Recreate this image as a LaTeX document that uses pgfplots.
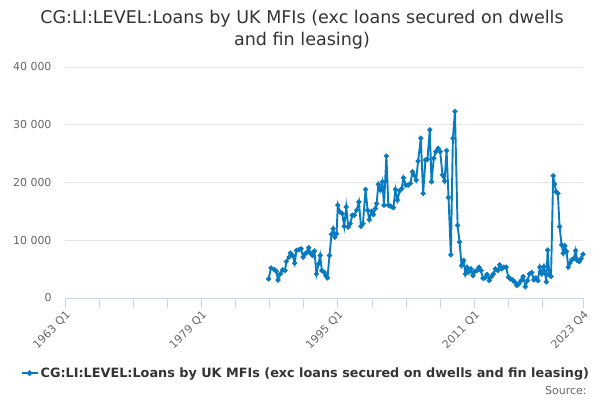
\documentclass[border=0pt]{standalone}
\usepackage{fontspec}
\setmainfont{DejaVu Sans}
\usepackage{pgfplots}
\pgfplotsset{compat=1.18}

\definecolor{serie}{RGB}{8,122,192}
\definecolor{axisline}{RGB}{204,214,235}
\definecolor{gridc}{RGB}{230,230,230}
\definecolor{titlec}{RGB}{51,51,51}
\definecolor{tickc}{RGB}{102,102,102}

\begin{document}
\begin{tikzpicture}[x=1bp,y=1bp]
\path[use as bounding box] (0,0) rectangle (600,400);

% title
\node[align=center, font=\fontsize{17.6}{22}\selectfont, text=titlec] at (302,370)
  {CG:LI:LEVEL:Loans by UK MFIs (exc loans secured on dwells\\and fin leasing)};

\begin{axis}[
  at={(65bp,102bp)}, anchor=south west,
  scale only axis,
  width=518bp, height=231bp,
  xmin=1963, xmax=2023.75,
  ymin=0, ymax=40000,
  axis x line*=bottom,
  axis y line*=left,
  x axis line style={draw=axisline, -},
  y axis line style={draw=none},
  xtick={1963,1979,1995,2011,2023.75},
  xticklabels={1963 Q1,1979 Q1,1995 Q1,2011 Q1,2023 Q4},
  minor xtick={1967,1971,1975,1983,1987,1991,1999,2003,2007,2015,2019},
  ytick={0,10000,20000,30000,40000},
  major tick length=10bp,
  minor tick length=10bp,
  xtick style={draw=axisline, line width=0.8bp},
  minor x tick style={draw=axisline, line width=0.8bp},
  ytick style={draw=none},
  tick align=outside,
  ymajorgrids,
  grid style={draw=gridc, line width=0.8bp},
  /pgf/number format/assume math mode=true,
  /pgf/number format/1000 sep={\ },
  /pgf/number format/min exponent for 1000 sep=4,
  scaled y ticks=false,
  xticklabel style={rotate=45, anchor=north east, font=\fontsize{11}{13}\selectfont, text=tickc, xshift=2bp, yshift=2bp},
  yticklabel style={anchor=east, font=\fontsize{11}{13}\selectfont, text=tickc, xshift=0bp},
  legend style={at={(0.465,-0.325)}, anchor=center, draw=none, fill=none,
    font=\bfseries\fontsize{12.85}{14}\selectfont, text=titlec,
    legend image code/.code={\draw[#1, line width=2bp] (0bp,0bp) -- (16bp,0bp); \fill[serie] (8bp,0bp) circle (1.8bp);}},
  clip=false,
]
\addplot[serie, line width=1.9bp, mark=*, mark size=1.5bp, mark options={fill=serie, draw=serie}] coordinates {
(1986.88,3306) (1987.16,5220) (1987.55,4930) (1987.78,4640) (1987.98,3132)
(1988.25,4176) (1988.53,4872) (1988.80,4756) (1988.96,6322) (1989.27,7076)
(1989.43,7772) (1989.71,7366) (1989.94,6032) (1990.14,8236) (1990.45,8352)
(1990.69,8526) (1990.92,7076) (1991.16,7656) (1991.39,7946) (1991.59,8700)
(1991.78,7772) (1992.02,7366) (1992.25,8120) (1992.49,4176) (1992.73,5916)
(1992.92,7366) (1993.12,4756) (1993.39,4466) (1993.59,3886) (1993.78,3480)
(1994.02,7366) (1994.25,11020) (1994.45,12006) (1994.65,10556) (1994.84,11136)
(1995.00,16066) (1995.24,14906) (1995.51,14616) (1995.75,12412) (1995.98,15776)
(1996.22,12296) (1996.45,12876) (1996.69,14326) (1996.92,14326) (1997.20,15196)
(1997.47,16646) (1997.71,12412) (1997.94,12876) (1998.25,18792) (1998.49,15196)
(1998.69,13572) (1998.96,15022) (1999.16,14442) (1999.39,15486) (1999.55,16356)
(1999.75,19662) (1999.98,18676) (2000.22,20126) (2000.41,16066) (2000.69,24592)
(2000.92,16066) (2001.20,15892) (2001.51,15660) (2001.75,18792) (2001.98,16936)
(2002.25,18560) (2002.49,18966) (2002.69,20822) (2002.96,19546) (2003.24,19546)
(2003.51,19836) (2003.75,21866) (2003.94,21286) (2004.18,20416) (2004.41,23722)
(2004.73,27666) (2005.00,18096) (2005.27,23896) (2005.51,24012) (2005.78,29116)
(2005.98,20126) (2006.25,24186) (2006.49,25346) (2006.76,25926) (2007.00,25346)
(2007.27,21286) (2007.51,20242) (2007.75,25520) (2007.98,17400) (2008.25,7482)
(2008.49,27666) (2008.73,32306) (2009.04,12586) (2009.27,9686) (2009.51,5626)
(2009.75,6496) (2009.94,4176) (2010.14,5336) (2010.37,4466) (2010.61,5046)
(2010.84,3886) (2011.08,4640) (2011.31,4756) (2011.55,5336) (2011.78,4756)
(2012.02,3422) (2012.25,3480) (2012.49,4060) (2012.76,3016) (2013.00,3712)
(2013.24,4176) (2013.47,5046) (2013.75,4756) (2013.98,5742) (2014.22,5046)
(2014.45,5336) (2014.73,5336) (2015.00,3596) (2015.24,3306) (2015.51,3132)
(2015.78,2726) (2015.98,2146) (2016.22,2436) (2016.49,3016) (2016.73,3712)
(2017.00,1972) (2017.24,3016) (2017.47,4176) (2017.75,4408) (2017.98,3132)
(2018.22,3480) (2018.45,3016) (2018.69,5336) (2018.92,4176) (2019.16,5452)
(2019.30,4292) (2019.45,2800) (2019.60,8300) (2019.80,4025) (2020.00,3740)
(2020.25,21160) (2020.41,19720) (2020.61,18400) (2020.80,18110) (2021.00,12360)
(2021.24,9200) (2021.43,7760) (2021.63,9030) (2021.82,8050) (2022.02,5350)
(2022.22,6040) (2022.45,6610) (2022.69,6900) (2022.88,8220) (2023.08,6500)
(2023.31,6330) (2023.51,6790) (2023.75,7590)
};
\addlegendentry{CG:LI:LEVEL:Loans by UK MFIs (exc loans secured on dwells and fin leasing)}
\end{axis}

\node[anchor=east, font=\fontsize{11}{13}\selectfont, text=tickc] at (590,9) {Source:};
\end{tikzpicture}
\end{document}
